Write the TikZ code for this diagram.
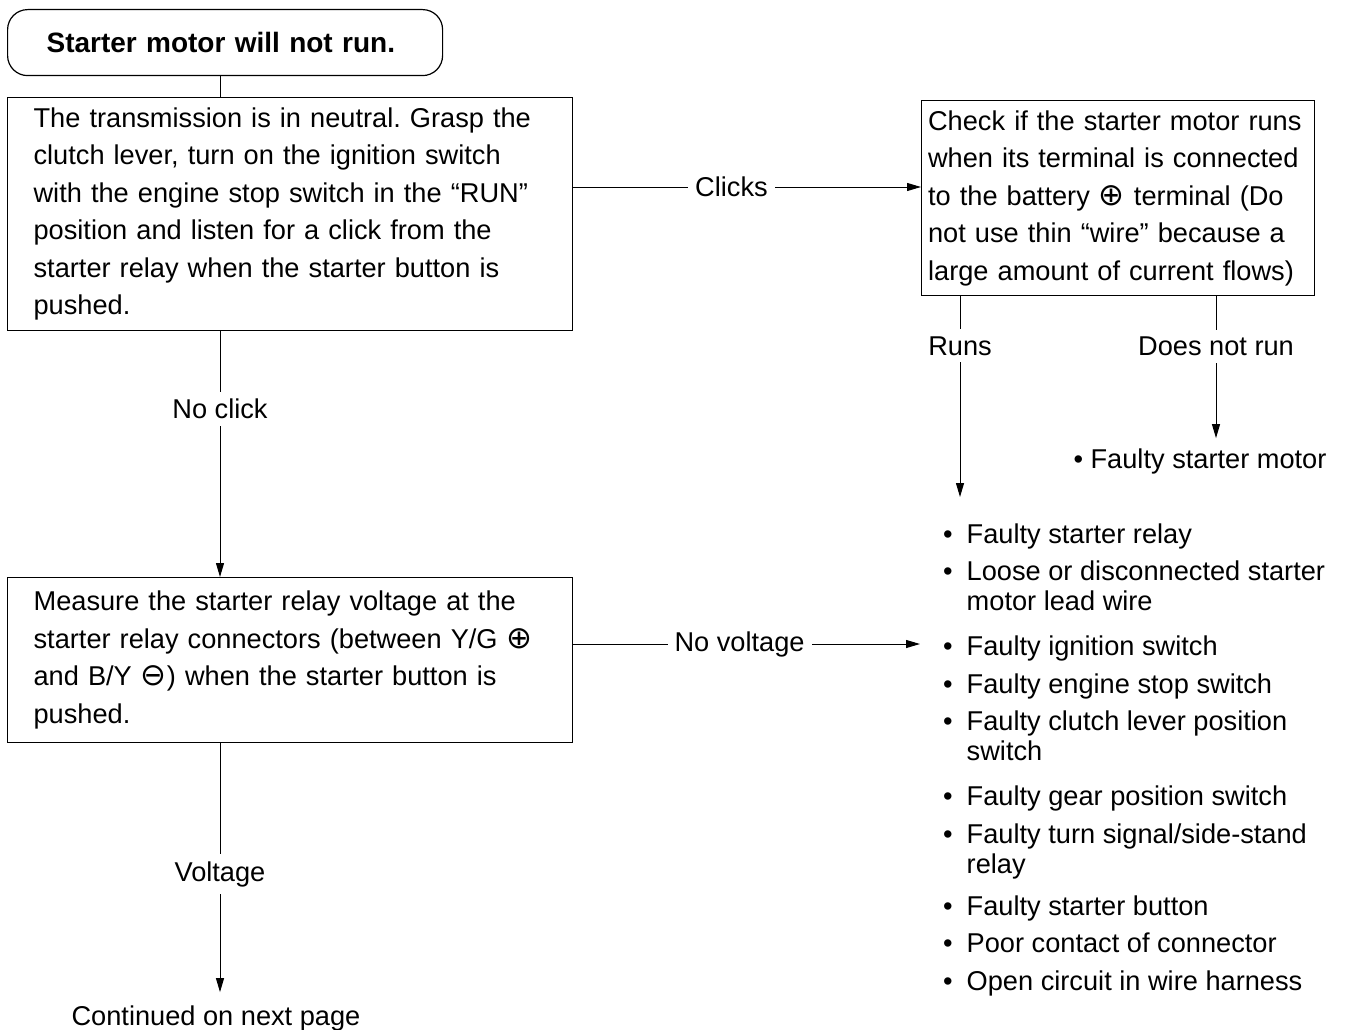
\documentclass[tikz,border=0pt]{standalone}
\usepackage{fontspec}
\setmainfont{Liberation Sans}
\newfontfamily\symfont{DejaVu Sans}
\usetikzlibrary{positioning,arrows.meta,calc}
\newcommand{\fsize}{\fontsize{27.2}{37.5}\selectfont\frenchspacing}
\newcommand{\cplus}{{\symfont\fontsize{31}{30}\selectfont ⊕}}
\newcommand{\cminus}{{\symfont\fontsize{31}{30}\selectfont ⊖}}
\tikzset{
  >={Triangle[length=14pt,width=8pt]},
  every node/.style={font=\fsize},
  % --- nodes
  mod/.style  = {draw=black, line width=1.2pt, align=left, anchor=north west,
                 inner ysep=0pt},
  head/.style = {mod, rounded corners=20pt, font=\fontsize{28}{37.5}\selectfont\bfseries},
  lbl/.style  = {fill=white, inner sep=7pt},
  plain/.style= {inner sep=0pt},
  % --- edges
  e/.style    = {->, line width=1pt},
}
\begin{document}
\begin{tikzpicture}[x=1pt,y=-1pt]
  \useasboundingbox (0,0) rectangle (1347,1030);

  % boxes
  \node[head, text width=357pt, inner xsep=39pt, minimum height=66pt] (title) at (7,9)
    {Starter motor will not run.};
  \node[mod, text width=513pt, inner xsep=26pt, minimum height=233pt] (check) at (7,97)
    {The transmission is in neutral. Grasp the\\
     clutch lever, turn on the ignition switch\\
     with the engine stop switch in the “RUN”\\
     position and listen for a click from the\\
     starter relay when the starter button is\\
     pushed.};
  \node[mod, text width=380pt, inner xsep=6.5pt, minimum height=195pt] (motor) at (921,100)
    {Check if the starter motor runs\\
     when its terminal is connected\\
     to the battery \cplus{} terminal (Do\\
     not use thin “wire” because a\\
     large amount of current flows)};
  \node[mod, text width=513pt, inner xsep=26pt, minimum height=165pt] (measure) at (7,577)
    {Measure the starter relay voltage at the\\
     starter relay connectors (between Y/G \cplus\\
     and B/Y \cminus) when the starter button is\\
     pushed.};

  % results
  \node[plain] (motorfault) at (1200,461) {• Faulty starter motor};
  \node[plain, anchor=north west, font=\fontsize{27.2}{30}\selectfont] (causes) at (943,522)
    {\begin{tabular}{@{}l@{\hspace{14pt}}l@{}}
     •&Faulty starter relay\\[7.5pt]
     •&Loose or disconnected starter\\
      &motor lead wire\\[15pt]
     •&Faulty ignition switch\\[7.5pt]
     •&Faulty engine stop switch\\[7.5pt]
     •&Faulty clutch lever position\\
      &switch\\[15pt]
     •&Faulty gear position switch\\[7.5pt]
     •&Faulty turn signal/side-stand\\
      &relay\\[12pt]
     •&Faulty starter button\\[7.5pt]
     •&Poor contact of connector\\[7.5pt]
     •&Open circuit in wire harness
     \end{tabular}};
  \node[plain] (cont) at (216,1018) {Continued on next page};

  % guide coordinates
  \coordinate (spine) at (220,0);
  \coordinate (runs) at (960,0);
  \coordinate (dnr) at (1216,0);
  \coordinate (clk) at (0,187);
  \coordinate (nv) at (0,644);

  % connectors
  \draw[line width=1pt] (title.south -| spine) -- (check.north -| spine);
  \draw[e] (check.east |- clk) -- node[lbl, pos=.455] {Clicks} (motor.west |- clk);
  \draw[e] (check.south -| spine) -- node[lbl, pos=.316] {No click} (measure.north -| spine);
  \draw[e, shorten >=23pt] (measure.east |- nv) -- node[lbl, pos=.45] {No voltage} (causes.west |- nv);
  \draw[e, shorten >=25pt] (motor.south -| runs) -- node[lbl, pos=.22] {Runs} (causes.north -| runs);
  \draw[e, shorten >=10pt] (motor.south -| dnr) -- node[lbl, pos=.33] {Does not run} (motorfault.north -| dnr);
  \draw[e, shorten >=13pt] (measure.south -| spine) -- node[lbl, pos=.5] {Voltage} (cont.north -| spine);
\end{tikzpicture}
\end{document}
